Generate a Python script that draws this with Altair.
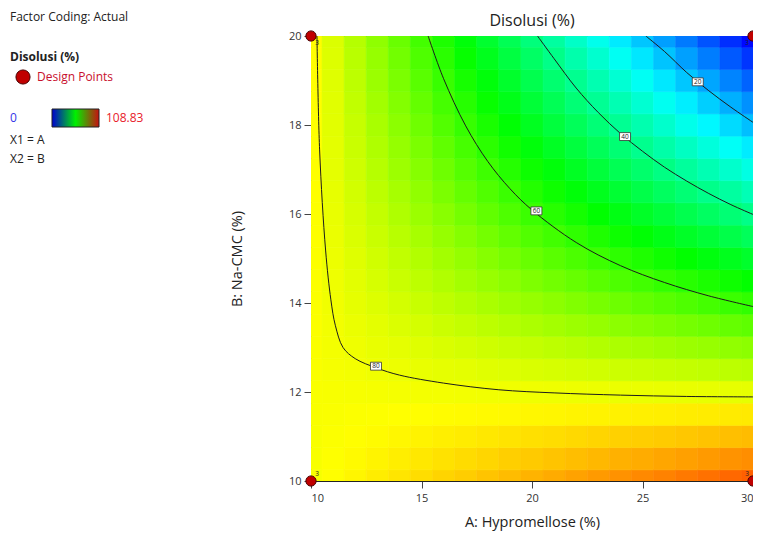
import altair as alt
import pandas as pd

# ---------------- data ----------------
A_GRID = [10, 11, 12, 13, 14, 15, 16, 17, 18, 19, 20, 21, 22, 23, 24, 25, 26, 27, 28, 29, 30]
B_GRID = [10.0, 10.5, 11.0, 11.5, 12.0, 12.5, 13.0, 13.5, 14.0, 14.5, 15.0,
          15.5, 16.0, 16.5, 17.0, 17.5, 18.0, 18.5, 19.0, 19.5, 20.0]

# Disolusi (%) estimated on the grid (rows follow B_GRID, columns follow A_GRID)
Z_ROWS = [
    [80.8, 81.7, 82.6, 83.5, 84.4, 85.3, 86.2, 87.0, 87.9, 88.8, 89.7, 90.6, 91.5, 92.4, 93.3, 94.2, 95.0, 95.9, 96.8, 97.7, 98.6],
    [80.9, 81.5, 82.2, 82.8, 83.4, 84.1, 84.7, 85.4, 86.0, 86.7, 87.3, 87.9, 88.6, 89.2, 89.9, 90.5, 91.1, 91.8, 92.4, 93.1, 93.7],
    [80.9, 81.3, 81.7, 82.1, 82.5, 82.9, 83.3, 83.7, 84.1, 84.5, 84.9, 85.3, 85.7, 86.1, 86.5, 86.9, 87.2, 87.6, 88.0, 88.4, 88.8],
    [81.0, 81.1, 81.3, 81.4, 81.6, 81.7, 81.9, 82.0, 82.2, 82.3, 82.5, 82.6, 82.8, 82.9, 83.0, 83.2, 83.3, 83.5, 83.6, 83.8, 83.9],
    [81.0, 80.9, 80.8, 80.7, 80.6, 80.5, 80.4, 80.3, 80.2, 80.1, 80.0, 79.9, 79.8, 79.7, 79.6, 79.5, 79.4, 79.3, 79.2, 79.1, 79.0],
    [81.1, 80.7, 80.4, 80.0, 79.7, 79.3, 79.0, 78.7, 78.3, 78.0, 77.6, 77.3, 76.9, 76.6, 76.2, 75.9, 75.5, 75.2, 74.9, 74.5, 74.2],
    [81.1, 80.5, 79.9, 79.3, 78.8, 78.2, 77.6, 77.0, 76.4, 75.8, 75.2, 74.6, 74.0, 73.4, 72.8, 72.2, 71.6, 71.0, 70.5, 69.9, 69.3],
    [81.2, 80.3, 79.5, 78.7, 77.8, 77.0, 76.1, 75.3, 74.5, 73.6, 72.8, 71.9, 71.1, 70.3, 69.4, 68.6, 67.7, 66.9, 66.1, 65.2, 64.4],
    [81.2, 80.1, 79.0, 78.0, 76.9, 75.8, 74.7, 73.6, 72.5, 71.4, 70.4, 69.3, 68.2, 67.1, 66.0, 64.9, 63.8, 62.7, 61.7, 60.6, 59.5],
    [81.3, 79.9, 78.6, 77.3, 75.9, 74.6, 73.3, 71.9, 70.6, 69.3, 67.9, 66.6, 65.3, 63.9, 62.6, 61.3, 59.9, 58.6, 57.3, 55.9, 54.6],
    [81.3, 79.7, 78.2, 76.6, 75.0, 73.4, 71.8, 70.3, 68.7, 67.1, 65.5, 63.9, 62.4, 60.8, 59.2, 57.6, 56.0, 54.5, 52.9, 51.3, 49.7],
    [81.4, 79.5, 77.7, 75.9, 74.1, 72.2, 70.4, 68.6, 66.8, 64.9, 63.1, 61.3, 59.4, 57.6, 55.8, 54.0, 52.1, 50.3, 48.5, 46.6, 44.8],
    [81.4, 79.3, 77.3, 75.2, 73.1, 71.0, 69.0, 66.9, 64.8, 62.7, 60.7, 58.6, 56.5, 54.4, 52.4, 50.3, 48.2, 46.1, 44.1, 42.0, 39.9],
    [81.5, 79.1, 76.8, 74.5, 72.2, 69.9, 67.5, 65.2, 62.9, 60.6, 58.2, 55.9, 53.6, 51.3, 49.0, 46.6, 44.3, 42.0, 39.7, 37.3, 35.0],
    [81.5, 78.9, 76.4, 73.8, 71.2, 68.7, 66.1, 63.5, 61.0, 58.4, 55.8, 53.3, 50.7, 48.1, 45.5, 43.0, 40.4, 37.8, 35.3, 32.7, 30.1],
    [81.6, 78.7, 75.9, 73.1, 70.3, 67.5, 64.7, 61.9, 59.0, 56.2, 53.4, 50.6, 47.8, 45.0, 42.1, 39.3, 36.5, 33.7, 30.9, 28.1, 25.2],
    [81.6, 78.5, 75.5, 72.4, 69.4, 66.3, 63.2, 60.2, 57.1, 54.0, 51.0, 47.9, 44.9, 41.8, 38.7, 35.7, 32.6, 29.5, 26.5, 23.4, 20.4],
    [81.7, 78.4, 75.0, 71.7, 68.4, 65.1, 61.8, 58.5, 55.2, 51.9, 48.6, 45.3, 41.9, 38.6, 35.3, 32.0, 28.7, 25.4, 22.1, 18.8, 15.5],
    [81.7, 78.2, 74.6, 71.0, 67.5, 63.9, 60.4, 56.8, 53.3, 49.7, 46.1, 42.6, 39.0, 35.5, 31.9, 28.4, 24.8, 21.2, 17.7, 14.1, 10.6],
    [81.8, 78.0, 74.2, 70.4, 66.6, 62.7, 58.9, 55.1, 51.3, 47.5, 43.7, 39.9, 36.1, 32.3, 28.5, 24.7, 20.9, 17.1, 13.3, 9.5, 5.7],
    [81.8, 77.8, 73.7, 69.7, 65.6, 61.6, 57.5, 53.5, 49.4, 45.4, 41.3, 37.3, 33.2, 29.2, 25.1, 21.1, 17.0, 13.0, 8.9, 4.9, 0.8],
]

Z_MIN, Z_MAX = 0, 108.83

# contour lines (A, B)
C80_A = [10.27, 10.39, 10.66, 10.9, 11.1, 11.45, 12.0, 12.97, 14.0, 16.0, 18.5, 21.0, 24.0, 27.0, 30.0]
C80_B = [20.0, 17.44, 15.19, 14.07, 13.5, 13.0, 12.75, 12.54, 12.38, 12.2, 12.05, 11.98, 11.93, 11.9, 11.89]
C60_A = [15.3, 16.0, 17.0, 18.0, 19.0, 20.0, 22.0, 24.0, 26.0, 28.0, 30.0]
C60_B = [20.0, 19.04, 17.98, 17.18, 16.57, 16.09, 15.36, 14.84, 14.46, 14.16, 13.92]
C40_A = [20.25, 21.0, 22.0, 23.0, 24.0, 25.0, 26.0, 27.0, 28.0, 29.0, 30.0]
C40_B = [20.0, 19.49, 18.83, 18.28, 17.81, 17.41, 17.05, 16.74, 16.46, 16.21, 15.99]
C20_A = [25.15, 26.0, 27.0, 28.0, 29.0, 30.0]
C20_B = [20.0, 19.65, 19.18, 18.77, 18.40, 18.06]

LABEL_TEXT = ["80", "60", "40", "20"]
LABEL_A = [12.94, 20.2, 24.21, 27.5]
LABEL_B = [12.58, 16.07, 17.74, 18.97]

DESIGN_A = [10, 10, 30, 30]
DESIGN_B = [10, 20, 10, 20]
DESIGN_N = ["3", "3", "3", "3"]

# ---------------- tables ----------------
cells = []
for b, row in zip(B_GRID, Z_ROWS):
    for a, z in zip(A_GRID, row):
        cells.append({"a0": a - 0.5, "a1": a + 0.5, "b0": b - 0.25, "b1": b + 0.25, "z": z})
cells = pd.DataFrame(cells)

contours = []
for lvl, aa, bb in [(80, C80_A, C80_B), (60, C60_A, C60_B), (40, C40_A, C40_B), (20, C20_A, C20_B)]:
    for i, (a, b) in enumerate(zip(aa, bb)):
        contours.append({"level": lvl, "order": i, "a": a, "b": b})
contours = pd.DataFrame(contours)

labels = pd.DataFrame({"a": LABEL_A, "b": LABEL_B, "t": LABEL_TEXT})
design = pd.DataFrame({"a": DESIGN_A, "b": DESIGN_B, "n": DESIGN_N})

# ---------------- scales ----------------
FONT = "Open Sans"
W, H = 442, 445
xscale = alt.Scale(domain=[10, 30], nice=False, zero=False)
yscale = alt.Scale(domain=[10, 20], nice=False, zero=False)
xaxis = alt.Axis(values=[10, 15, 20, 25, 30], format="d", title="A: Hypromellose (%)",
                 grid=False, tickSize=7, labelPadding=4, titlePadding=12)
yaxis = alt.Axis(values=[10, 12, 14, 16, 18, 20], format="d", title="B: Na-CMC (%)",
                 grid=False, tickSize=7, labelPadding=3, titlePadding=44)
cscale = alt.Scale(domain=[0, 27.2075, 54.415, 81.6225, 108.83],
                   range=["#0000ff", "#00ffff", "#00ff00", "#ffff00", "#ff0000"],
                   interpolate="rgb")


def X(field):
    return alt.X(field, type="quantitative", scale=xscale, axis=xaxis)


def Y(field):
    return alt.Y(field, type="quantitative", scale=yscale, axis=yaxis)


heat = alt.Chart(cells).mark_rect(clip=True, strokeWidth=0.6).encode(
    x=X("a0"), x2="a1", y=Y("b0"), y2="b1",
    color=alt.Color("z:Q", scale=cscale, legend=None),
    stroke=alt.Stroke("z:Q", scale=cscale, legend=None),
)

lines = alt.Chart(contours).mark_line(clip=True, color="#1c1c1c", strokeWidth=1,
                                      interpolate="catmull-rom").encode(
    x=X("a"), y=Y("b"), detail="level:N", order="order:Q"
)

BOX = "M-1,-0.72L1,-0.72L1,0.72L-1,0.72Z"
boxes = alt.Chart(labels).mark_point(shape=BOX, size=121, filled=True, fill="white",
                                     stroke="#333333", strokeWidth=0.8, opacity=1).encode(
    x=X("a"), y=Y("b")
)
box_text = alt.Chart(labels).mark_text(fontSize=6.5, color="#222222", font=FONT).encode(
    x=X("a"), y=Y("b"), text="t:N"
)

points = alt.Chart(design).mark_point(filled=True, size=105, fill="#c00000", stroke="#4a0000",
                                      strokeWidth=1, opacity=1, shape="circle").encode(
    x=X("a"), y=Y("b")
)

count_layers = []
for a, b, n in zip(DESIGN_A, DESIGN_B, DESIGN_N):
    dx = 6 if a == min(DESIGN_A) else -6
    dy = 7 if b == max(DESIGN_B) else -7
    d = pd.DataFrame({"a": [a], "b": [b], "n": [n]})
    count_layers.append(
        alt.Chart(d).mark_text(fontSize=6.5, color="#222222", dx=dx, dy=dy, font=FONT).encode(
            x=X("a"), y=Y("b"), text="n:N")
    )

# ---------------- title and left-side key ----------------
one = pd.DataFrame({"k": [0]})


def note(text, x, y, color="#222222", weight="normal", size=12, align="left", baseline="middle"):
    return alt.Chart(one).mark_text(text=text, align=align, baseline=baseline, fontSize=size,
                                    color=color, fontWeight=weight, font=FONT).encode(
        x=alt.value(x), y=alt.value(y))


key = [
    note("Disolusi (%)", W / 2, -15, size=16, align="center"),
    note("Factor Coding: Actual", -301, -15, baseline="alphabetic"),
    note("Disolusi (%)", -301, 21, weight="bold"),
    alt.Chart(one).mark_point(filled=True, size=200, fill="#c00000", stroke="#4a0000",
                              strokeWidth=1, opacity=1, shape="circle").encode(
        x=alt.value(-288), y=alt.value(41)),
    note("Design Points", -274, 41, color="#c8102e"),
    note("0", -301, 82, color="#3535e8"),
    alt.Chart(one).mark_rect(
        color=alt.LinearGradient(gradient="linear",
                                 stops=[alt.GradientStop(color="#0000d0", offset=0),
                                        alt.GradientStop(color="#00f000", offset=0.5),
                                        alt.GradientStop(color="#c81010", offset=1)],
                                 x1=0, x2=1, y1=0, y2=0),
        stroke="#222222", strokeWidth=1).encode(
        x=alt.value(-259), x2=alt.value(-212), y=alt.value(73), y2=alt.value(91)),
    note("108.83", -205, 82, color="#e8202a"),
    note("X1 = A", -301, 104),
    note("X2 = B", -301, 123),
]

chart = alt.layer(heat, lines, boxes, box_text, points, *count_layers, *key).properties(
    width=W, height=H,
    autosize=alt.AutoSizeParams(type="none"),
    padding={"left": 303, "top": 28, "right": 0, "bottom": 53},
).configure_view(stroke="#222222", strokeWidth=1).configure_axis(
    labelFont=FONT, titleFont=FONT, labelFontSize=11, titleFontSize=14.5, titleFontWeight="normal",
    labelColor="#333333", titleColor="#222222", tickColor="#444444", domainColor="#222222",
)

chart.save("out.html", embed_options={"renderer": "svg", "actions": False})
